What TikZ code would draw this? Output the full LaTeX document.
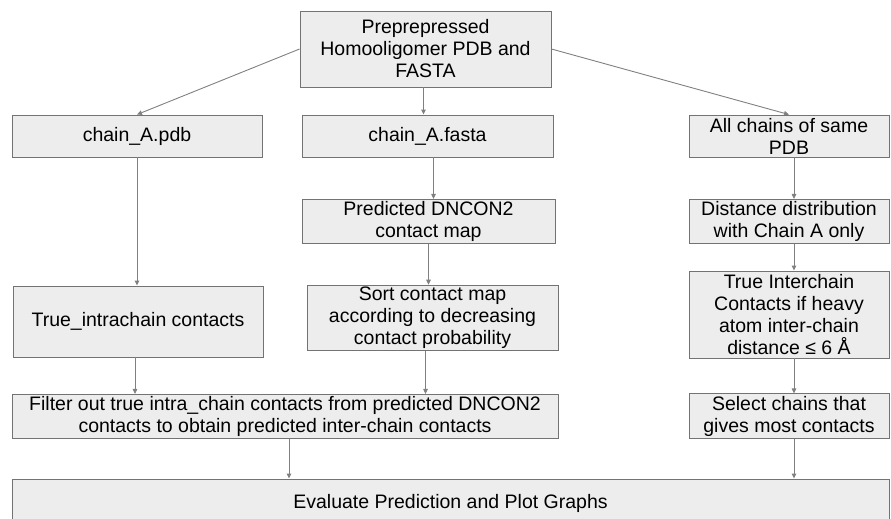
\documentclass[tikz,border=0pt]{standalone}
\usepackage{fontspec}
\setmainfont{Liberation Sans}
\usetikzlibrary{arrows.meta}

\begin{document}
\begin{tikzpicture}[x=1pt,y=-1pt,
  stepbox/.style={draw=black!55,fill=black!7,line width=.9pt,align=center,inner sep=2pt,
    font=\fontsize{19.5}{22}\selectfont},
  link/.style={draw=black!50,line width=.9pt,-{Triangle[length=5pt,width=4.5pt]}}]
\clip (0,0) rectangle (891,519);

\node[stepbox,minimum width=251,minimum height=76] (raw) at (425.5,49) {Preprepressed\\Homooligomer PDB and\\FASTA};

\node[stepbox,minimum width=250,minimum height=42] (pdb) at (137,136) {chain\_A.pdb};
\node[stepbox,minimum width=251,minimum height=42] (fasta) at (427.5,136) {chain\_A.fasta};
\node[stepbox,minimum width=200,minimum height=42] (chains) at (789,136) {All chains of same\\PDB};

\node[stepbox,minimum width=253,minimum height=43] (dncon) at (428.5,221.5) {Predicted DNCON2\\contact map};
\node[stepbox,minimum width=200,minimum height=43] (dist) at (789,221.5) {Distance distribution\\with Chain A only};

\node[stepbox,minimum width=250,minimum height=71] (intra) at (138,321.5) {True\_intrachain contacts};
\node[stepbox,minimum width=251,minimum height=64] (sort) at (432.5,318) {Sort contact map\\according to decreasing\\contact probability};
\node[stepbox,minimum width=200,minimum height=87] (inter) at (789,314.5) {True Interchain\\Contacts if heavy\\atom inter-chain\\distance ≤ 6 Å};

\node[stepbox,minimum width=546,minimum height=43] (filter) at (285,416.5) {Filter out true intra\_chain contacts from predicted DNCON2\\contacts to obtain predicted inter-chain contacts};
\node[stepbox,minimum width=200,minimum height=44] (select) at (789,416) {Select chains that\\gives most contacts};

\node[stepbox,minimum width=877,minimum height=48] (eval) at (450.5,503) {Evaluate Prediction and Plot Graphs};

% first split
\draw[link] (raw.west) -- (pdb.north);
\draw[link] ([xshift=-2]raw.south) -- ([xshift=-2]raw.south |- fasta.north);
\draw[link] (raw.east) -- (chains.north);

% left column
\draw[link] (pdb.south) -- (pdb.south |- intra.north);
\draw[link] ([xshift=-3]intra.south) -- ([xshift=-3]intra.south |- filter.north);

% middle column
\draw[link] ([xshift=6]fasta.south) -- ([xshift=6]fasta.south |- dncon.north);
\draw[link] (dncon.south) -- (dncon.south |- sort.north);
\draw[link] ([xshift=-7]sort.south) -- ([xshift=-7]sort.south |- filter.north);
\draw[link] ([xshift=4]filter.south) -- ([xshift=4]filter.south |- eval.north);

% right column
\draw[link] ([xshift=5]chains.south) -- ([xshift=5]chains.south |- dist.north);
\draw[link] ([xshift=5]dist.south) -- ([xshift=5]dist.south |- inter.north);
\draw[link] ([xshift=5]inter.south) -- ([xshift=5]inter.south |- select.north);
\draw[link] ([xshift=5]select.south) -- ([xshift=5]select.south |- eval.north);
\end{tikzpicture}
\end{document}
